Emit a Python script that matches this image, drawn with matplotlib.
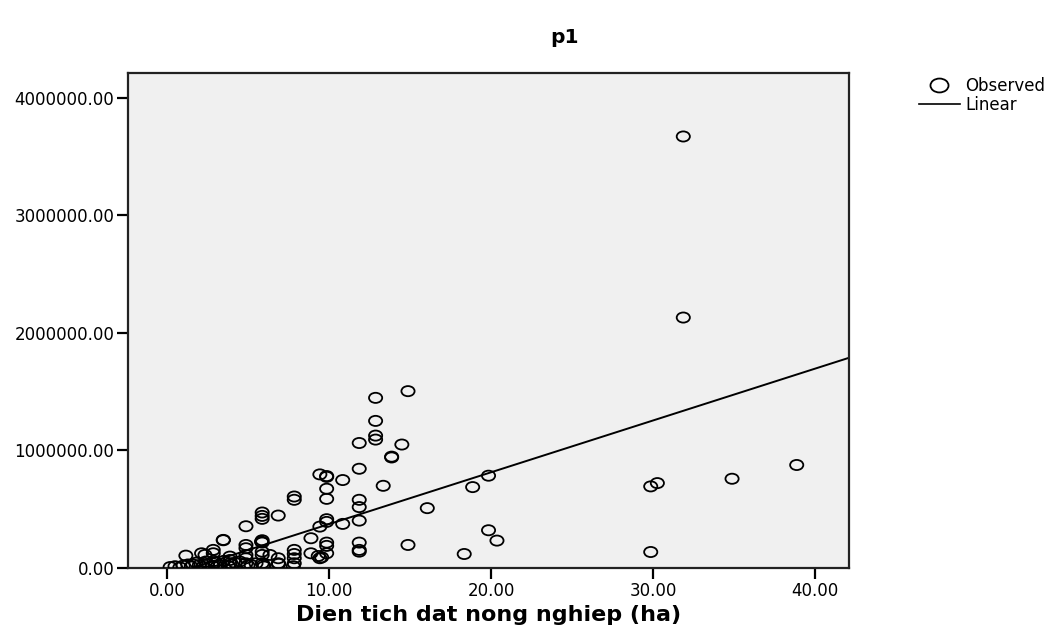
import numpy as np
import matplotlib
matplotlib.use("Agg")
import matplotlib.pyplot as plt
from matplotlib.path import Path
from matplotlib.transforms import Affine2D
from matplotlib.lines import Line2D

area_ha = [
    31.87, 31.87, 14.88, 14.5, 19.85, 18.87, 16.07, 14.88, 18.35, 19.85, 20.37,
    29.86, 30.27, 29.86, 34.88, 38.87,
    12.88, 12.88, 12.88, 12.88, 11.87, 13.87, 13.87, 11.87, 9.44, 9.86, 9.86,
    10.85, 13.35, 9.86, 9.86, 7.86, 7.86, 11.87, 11.87, 11.87, 5.88, 5.88, 5.88,
    6.87, 4.88, 9.86, 9.86, 9.44, 10.85, 3.48, 5.88, 5.88, 4.88, 8.89, 9.86,
    9.86, 11.87, 11.87, 11.87, 8.89, 9.34, 9.44, 9.86, 7.86, 7.86, 7.86, 7.86,
    6.87, 6.87, 6.36, 5.88, 5.88, 5.88, 4.88, 4.88, 4.88, 4.88, 2.86, 2.86,
    2.14, 2.35, 1.17, 3.89, 3.89, 3.89, 5.84, 3.48, 9.55, 5.95,
    0.2, 0.5, 0.8, 1.0, 1.3, 1.5, 1.8, 2.0, 2.2, 2.5, 2.8, 3.0, 3.3, 3.5,
    3.8, 4.0, 4.5, 5.0, 5.5, 6.0, 1.6, 2.4, 3.1, 4.2, 5.2, 6.9, 7.8, 2.9,
]
value = [
    3670000, 2130000, 1504000, 1050000, 785000, 688000, 509000, 196000, 119000,
    321000, 233000, 694000, 722000, 136000, 759000, 876000,
    1447000, 1251000, 1126000, 1092000, 1063000, 947000, 940000, 844000, 796000,
    782000, 775000, 748000, 699000, 674000, 588000, 608000, 580000, 580000,
    518000, 403000, 472000, 443000, 418000, 446000, 355000, 415000, 392000,
    352000, 375000, 236000, 236000, 216000, 196000, 253000, 216000, 188000,
    216000, 154000, 139000, 125000, 102000, 83000, 125000, 154000, 119000,
    83000, 40000, 83000, 40000, 111000, 139000, 111000, 40000, 168000, 111000,
    83000, 40000, 154000, 125000, 125000, 111000, 105000, 97000, 68000, 40000,
    224000, 239000, 91000, 26000,
    8000, 15000, 5000, 20000, 30000, 12000, 45000, 25000, 10000, 35000, 18000,
    50000, 22000, 60000, 15000, 30000, 55000, 20000, 40000, 12000, 30000,
    55000, 10000, 45000, 25000, 35000, 15000, 60000,
]

# linear fit as drawn in the chart
slope = 44080.0
intercept = -67900.0

x_ticks = [0, 10, 20, 30, 40]
y_ticks = [0, 1000000, 2000000, 3000000, 4000000]

plt.rcParams["font.family"] = ["DejaVu Sans"]

fig = plt.figure(figsize=(10.58, 6.33), dpi=100)
ax = fig.add_axes([0.121, 0.1027, 0.6815, 0.782])
ax.set_facecolor("#f0f0f0")

# slightly wide open circle like the original
oval = Path.unit_circle().transformed(Affine2D().scale(1.3, 1.0))
ax.scatter(area_ha, value, marker=oval, s=90, facecolors="none",
           edgecolors="black", linewidths=1.3, zorder=3)

x_line = np.array([min(area_ha), 42.1])
ax.plot(x_line, intercept + slope * x_line, color="black", lw=1.4, zorder=2)

ax.set_xlim(-2.4, 42.1)
ax.set_ylim(0, 4210000)
ax.set_xticks(x_ticks)
ax.set_yticks(y_ticks)
ax.set_xticklabels([f"{t:.2f}" for t in x_ticks], fontsize=12)
ax.set_yticklabels([f"{t:.2f}" for t in y_ticks], fontsize=12)
ax.tick_params(direction="out", length=8, width=1.6, color="black", pad=2)
for s in ax.spines.values():
    s.set_linewidth(1.6)
    s.set_color("#222222")

ax.set_xlabel("Dien tich dat nong nghiep (ha)", fontsize=16,
              fontweight="bold", labelpad=4)
fig.text(0.534, 0.94, "p1", ha="center", va="center",
         fontsize=14.5, fontweight="bold")

handles = [
    Line2D([], [], marker=oval, ls="none", ms=13, mfc="none", mec="black", mew=1.3),
    Line2D([], [], color="black", lw=1.2),
]
fig.legend(handles, ["Observed", "Linear"], loc="upper left",
           bbox_to_anchor=(0.862, 0.889), frameon=False, fontsize=12,
           handlelength=2.5, handletextpad=0.3, labelspacing=0.05,
           borderaxespad=0)

fig.savefig("out.png", dpi=100)
